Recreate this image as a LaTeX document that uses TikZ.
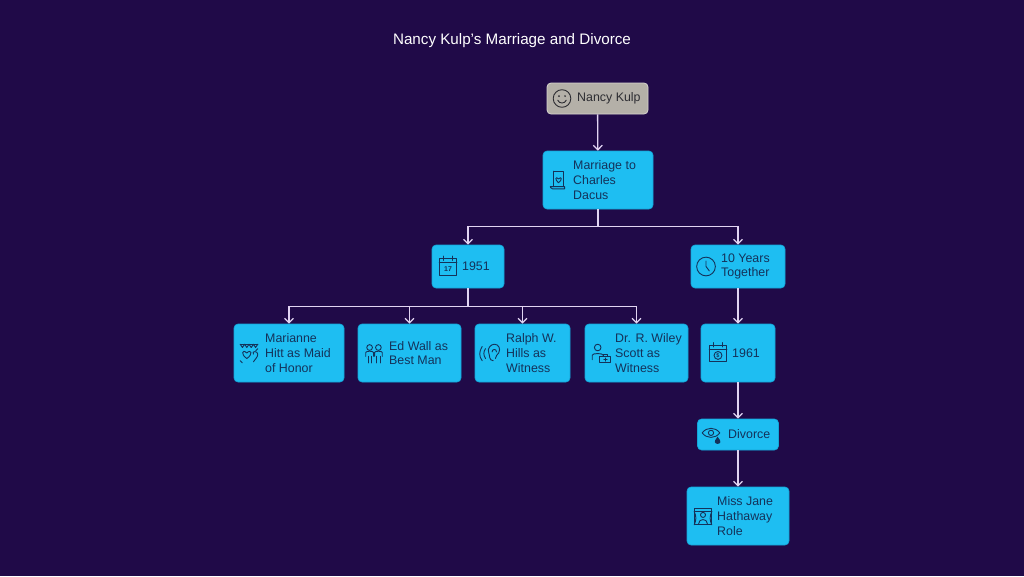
\documentclass[tikz,border=0pt]{standalone}
\usepackage{fontspec}
\setmainfont{Liberation Sans}
\usetikzlibrary{arrows.meta}
\definecolor{bg}{RGB}{32,10,72}
\definecolor{boxfill}{RGB}{30,190,242}
\definecolor{boxedge}{RGB}{20,165,215}
\definecolor{txt}{RGB}{20,50,90}
\definecolor{rootfill}{RGB}{180,176,168}
\definecolor{rootedge}{RGB}{215,212,206}
\definecolor{rtxt}{RGB}{45,45,50}
\definecolor{arrowc}{RGB}{225,212,242}
\tikzset{
  box/.style={draw=boxedge, fill=boxfill, rounded corners=4pt, line width=0.6pt, inner sep=0pt},
  rootbox/.style={draw=rootedge, fill=rootfill, rounded corners=4pt, line width=0.8pt, inner sep=0pt},
  lbl/.style={text=txt, font=\fontsize{12.4}{14.8}\selectfont, align=left, anchor=west, inner sep=0pt},
  conn/.style={draw=arrowc, line width=1.3pt, -{Straight Barb[length=4.5pt,width=9pt]}},
  ico/.style={draw=txt, line width=0.9pt, line cap=round, line join=round},
}
\begin{document}
\begin{tikzpicture}[x=1pt,y=-1pt]
\fill[bg] (0,0) rectangle (1024,576);
\useasboundingbox (0,0) rectangle (1024,576);

\node[text=white, font=\fontsize{15.2}{17}\selectfont] (title) at (512,41) {Nancy Kulp's Marriage and Divorce};

% boxes
\node[rootbox, minimum width=101pt, minimum height=31pt] (kulp) at (597.5,98.5) {};
\node[box, minimum width=110pt, minimum height=58pt] (marriage) at (598,180) {};
\node[box, minimum width=72pt, minimum height=43pt] (y1951) at (468,266.5) {};
\node[box, minimum width=94pt, minimum height=43pt] (tenyears) at (738,266.5) {};
\node[box, minimum width=110pt, minimum height=58pt] (marianne) at (289,353) {};
\node[box, minimum width=103pt, minimum height=58pt] (edwall) at (409.5,353) {};
\node[box, minimum width=95pt, minimum height=58pt] (ralph) at (522.5,353) {};
\node[box, minimum width=103pt, minimum height=58pt] (wiley) at (636.5,353) {};
\node[box, minimum width=74pt, minimum height=58pt] (y1961) at (738,353) {};
\node[box, minimum width=81pt, minimum height=31pt] (divorce) at (738,434.5) {};
\node[box, minimum width=102pt, minimum height=58pt] (hathaway) at (738,516) {};

% labels
\node[lbl, text=rtxt] (kulp-t) at (577,98.5) {Nancy Kulp};
\node[lbl] (marriage-t) at (573,180) {Marriage to\\Charles\\Dacus};
\node[lbl] (y1951-t) at (462,266.5) {1951};
\node[lbl] (tenyears-t) at (721,266.5) {10 Years\\Together};
\node[lbl] (marianne-t) at (265,353) {Marianne\\Hitt as Maid\\of Honor};
\node[lbl] (edwall-t) at (389,353) {Ed Wall as\\Best Man};
\node[lbl] (ralph-t) at (506,353) {Ralph W.\\Hills as\\Witness};
\node[lbl] (wiley-t) at (615,353) {Dr. R. Wiley\\Scott as\\Witness};
\node[lbl] (y1961-t) at (732,353) {1961};
\node[lbl] (divorce-t) at (728,434.5) {Divorce};
\node[lbl] (hathaway-t) at (717,516) {Miss Jane\\Hathaway\\Role};

% connectors
\draw[conn] (kulp) -- (marriage);
\draw[conn] (marriage.south) -- ++(0,17) -| (y1951.north);
\draw[conn] (marriage.south) -- ++(0,17) -| (tenyears.north);
\draw[conn] (y1951.south) -- ++(0,18) -| (marianne.north);
\draw[conn] (y1951.south) -- ++(0,18) -| (edwall.north);
\draw[conn] (y1951.south) -- ++(0,18) -| (ralph.north);
\draw[conn] (y1951.south) -- ++(0,18) -| (wiley.north);
\draw[conn] (tenyears) -- (y1961);
\draw[conn] (y1961) -- (divorce);
\draw[conn] (divorce) -- (hathaway);

% icons
% smiley
\begin{scope}[shift={(562,98.5)}, scale=1.1]
  \draw[ico, draw=rtxt] (0,0) circle (8);
  \fill[rtxt] (-2.8,-2.2) circle (0.9) (2.8,-2.2) circle (0.9);
  \draw[ico, draw=rtxt] (-4,1.5) .. controls (-2,5) and (2,5) .. (4,1.5);
\end{scope}
% scroll with heart
\begin{scope}[shift={(558,180)}, scale=1.1]
  \draw[ico] (-4,-8) -- (5,-8) -- (5,6) (-4,-8) -- (-4,6);
  \draw[ico] (-7,6) -- (6,6) -- (6,8) -- (-5,8) .. controls (-7,8) and (-7,6) .. (-7,6);
  \draw[ico] (0.5,-1) .. controls (-2.5,-4) and (-3,0) .. (0.5,2.5) .. controls (4,0) and (3.5,-4) .. (0.5,-1);
\end{scope}
% calendar 17
\begin{scope}[shift={(448,266.5)}, scale=1.1]
  \draw[ico] (-8,-7) rectangle (8,8);
  \draw[ico] (-8,-3.5) -- (8,-3.5);
  \draw[ico] (-4,-9.5) -- (-4,-5.5) (4,-9.5) -- (4,-5.5);
  \node[text=txt, font=\fontsize{7}{8}\selectfont\bfseries, inner sep=0] (cal17) at (0,2.5) {17};
\end{scope}
% clock
\begin{scope}[shift={(706,266.5)}, scale=1.1]
  \draw[ico] (0,0) circle (8.5);
  \draw[ico] (0,-5) -- (0,0) -- (3,4);
\end{scope}
% marianne icon (garland / hearts)
\begin{scope}[shift={(249,353)}, scale=1.1]
  \draw[ico] (-8,-8) -- (8,-8);
  \draw[ico] (-8,-8) -- (-6,-5) -- (-4,-8) -- (-2,-5) -- (0,-8) -- (2,-5) -- (4,-8) -- (6,-5) -- (8,-8);
  \draw[ico] (-2,0) .. controls (-6,-4) and (-8,1) .. (-2,5) .. controls (4,1) and (2,-4) .. (-2,0);
  \draw[ico] (4,1) .. controls (2,-2) and (8,-2) .. (8,1) .. controls (8,4) and (5,6) .. (4,8);
  \draw[ico] (-8,7) -- (-6,9) (6,-2) -- (8,-4);
\end{scope}
% ed wall icon (two people)
\begin{scope}[shift={(374,353)}, scale=1.1]
  \draw[ico] (-4,-5) circle (2.6);
  \draw[ico] (4,-5) circle (2.6);
  \draw[ico] (-7.5,3) -- (-7.5,-0.5) .. controls (-7.5,-2) and (-0.5,-2) .. (-0.5,-0.5) -- (-0.5,3);
  \draw[ico] (0.5,3) -- (0.5,-0.5) .. controls (0.5,-2) and (7.5,-2) .. (7.5,-0.5) -- (7.5,3);
  \draw[ico] (-5.5,3) -- (-5.5,9) (-2.5,3) -- (-2.5,9) (2.5,3) -- (2.5,9) (5.5,3) -- (5.5,9);
\end{scope}
% ralph icon (ear with waves)
\begin{scope}[shift={(491,353)}, scale=1.1]
  \draw[ico] (2,7) .. controls (-2,7) and (-1,2) .. (-2,0) .. controls (-4,-4) and (0,-8) .. (3,-8) .. controls (7,-8) and (9,-4) .. (7,0) .. controls (6,2) and (4,2) .. (4,5);
  \draw[ico] (1,-1) .. controls (1,-4) and (5,-4) .. (5,-1);
  \draw[ico] (-5,-4) .. controls (-7,-1) and (-7,2) .. (-5,5);
  \draw[ico] (-8,-6) .. controls (-11,-1) and (-11,3) .. (-8,7);
\end{scope}
% wiley icon (doctor + bag)
\begin{scope}[shift={(601,353)}, scale=1.1]
  \draw[ico] (-3,-5) circle (3);
  \draw[ico] (-8,6) -- (-8,2) .. controls (-8,0) and (2,0) .. (2,2);
  \draw[ico] (-1,3) rectangle (9,9);
  \draw[ico] (2,3) -- (2,1.5) -- (6,1.5) -- (6,3);
  \draw[ico] (4,4.5) -- (4,7.5) (2.5,6) -- (5.5,6);
\end{scope}
% calendar dollar
\begin{scope}[shift={(718,353)}, scale=1.1]
  \draw[ico] (-8,-7) rectangle (8,8);
  \draw[ico] (-8,-3.5) -- (8,-3.5);
  \draw[ico] (-4,-9.5) -- (-4,-5.5) (4,-9.5) -- (4,-5.5);
  \draw[ico] (0,2.2) circle (3.6);
  \node[text=txt, font=\fontsize{5.5}{6}\selectfont\bfseries, inner sep=0] (cal61) at (0,2.2) {\$};
\end{scope}
% eye with tear
\begin{scope}[shift={(711,434.5)}, scale=1.1]
  \draw[ico] (-8,-1.5) .. controls (-4,-7) and (4,-7) .. (8,-1.5) .. controls (4,4) and (-4,4) .. (-8,-1.5);
  \draw[ico] (0,-1.5) circle (2.4);
  \fill[txt] (6,2) .. controls (8,5) and (9,6) .. (8.5,7) .. controls (8,9) and (4,9) .. (3.5,7) .. controls (3,6) and (4,5) .. (6,2);
\end{scope}
% theater / role icon
\begin{scope}[shift={(703,516)}, scale=1.1]
  \draw[ico] (-8,-7) rectangle (8,8);
  \draw[ico] (-8,-4) -- (8,-4);
  \draw[ico] (0,-1) circle (2.3);
  \draw[ico] (-4,7) .. controls (-4,2) and (4,2) .. (4,7);
  \draw[ico] (-8,-4) .. controls (-6,0) and (-6,4) .. (-8,8) (8,-4) .. controls (6,0) and (6,4) .. (8,8);
\end{scope}
\end{tikzpicture}
\end{document}
